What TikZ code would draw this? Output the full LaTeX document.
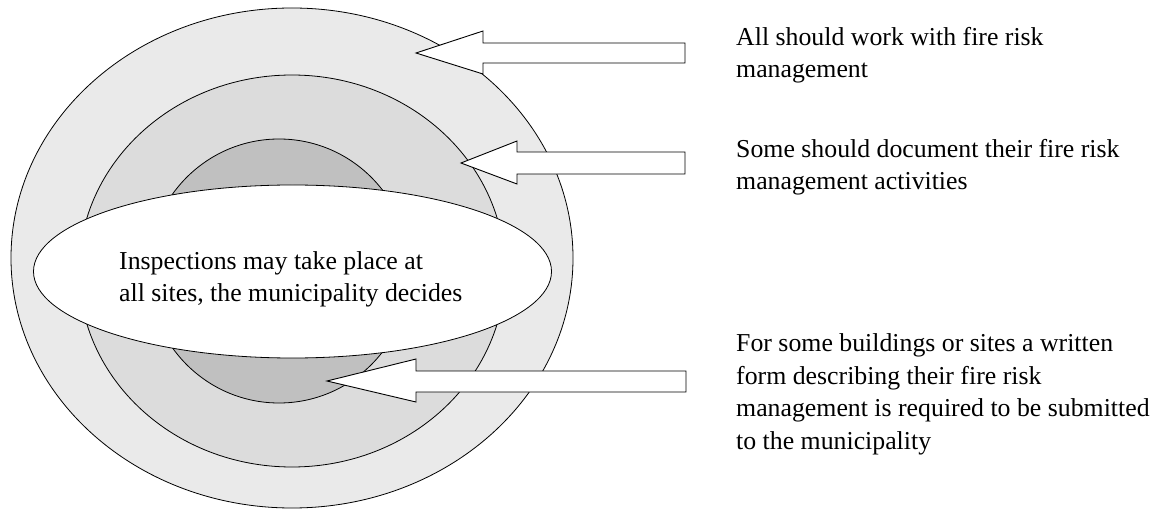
\documentclass[tikz,border=0pt]{standalone}
\usepackage{fontspec}
\setmainfont{Liberation Serif}
\usetikzlibrary{shapes.geometric}
\definecolor{ringA}{HTML}{EAEAEA}
\definecolor{ringB}{HTML}{DCDCDC}
\definecolor{ringC}{HTML}{C0C0C0}
\begin{document}
\begin{tikzpicture}[x=1pt,y=-1pt,
  ring/.style={draw=black, line width=0.8pt, ellipse, inner sep=0pt},
  arrowshape/.style={draw=black, fill=white, line width=0.9pt, line join=miter},
  lbl/.style={anchor=base west, inner sep=0pt, font=\fontsize{25.8}{32.5}\selectfont, align=left}]
\useasboundingbox (0,0) rectangle (1161,510);
\node[ring, fill=ringA, minimum width=562pt, minimum height=500pt] (outer) at (292,258) {};
\node[ring, fill=ringB, minimum width=426pt, minimum height=392pt] (middle) at (292,271) {};
\node[ring, fill=ringC, minimum width=262pt, minimum height=264pt] (inner) at (279,271) {};
\node[ring, fill=white, minimum width=518pt, minimum height=173pt] (centre) at (292.5,271.5) {};
\node[lbl] (ctext) at (119,302) {Inspections may take place at\\all sites, the municipality decides};
\draw[arrowshape] (685,43) -- (483,43) -- (483,31) -- (416,53) -- (483,74) -- (483,63) -- (685,63) -- cycle;
\draw[arrowshape] (685,152) -- (517,152) -- (517,141) -- (461,163) -- (517,184) -- (517,174) -- (685,174) -- cycle;
\draw[arrowshape] (686,371) -- (416,371) -- (416,359) -- (327,381) -- (416,402) -- (416,392) -- (686,392) -- cycle;
\node[lbl] (t1) at (736,78) {All should work with fire risk\\management};
\node[lbl] (t2) at (736,190) {Some should document their fire risk\\management activities};
\node[lbl] (t3) at (736,449) {For some buildings or sites a written\\form describing their fire risk\\management is required to be submitted\\to the municipality};
\end{tikzpicture}
\end{document}
